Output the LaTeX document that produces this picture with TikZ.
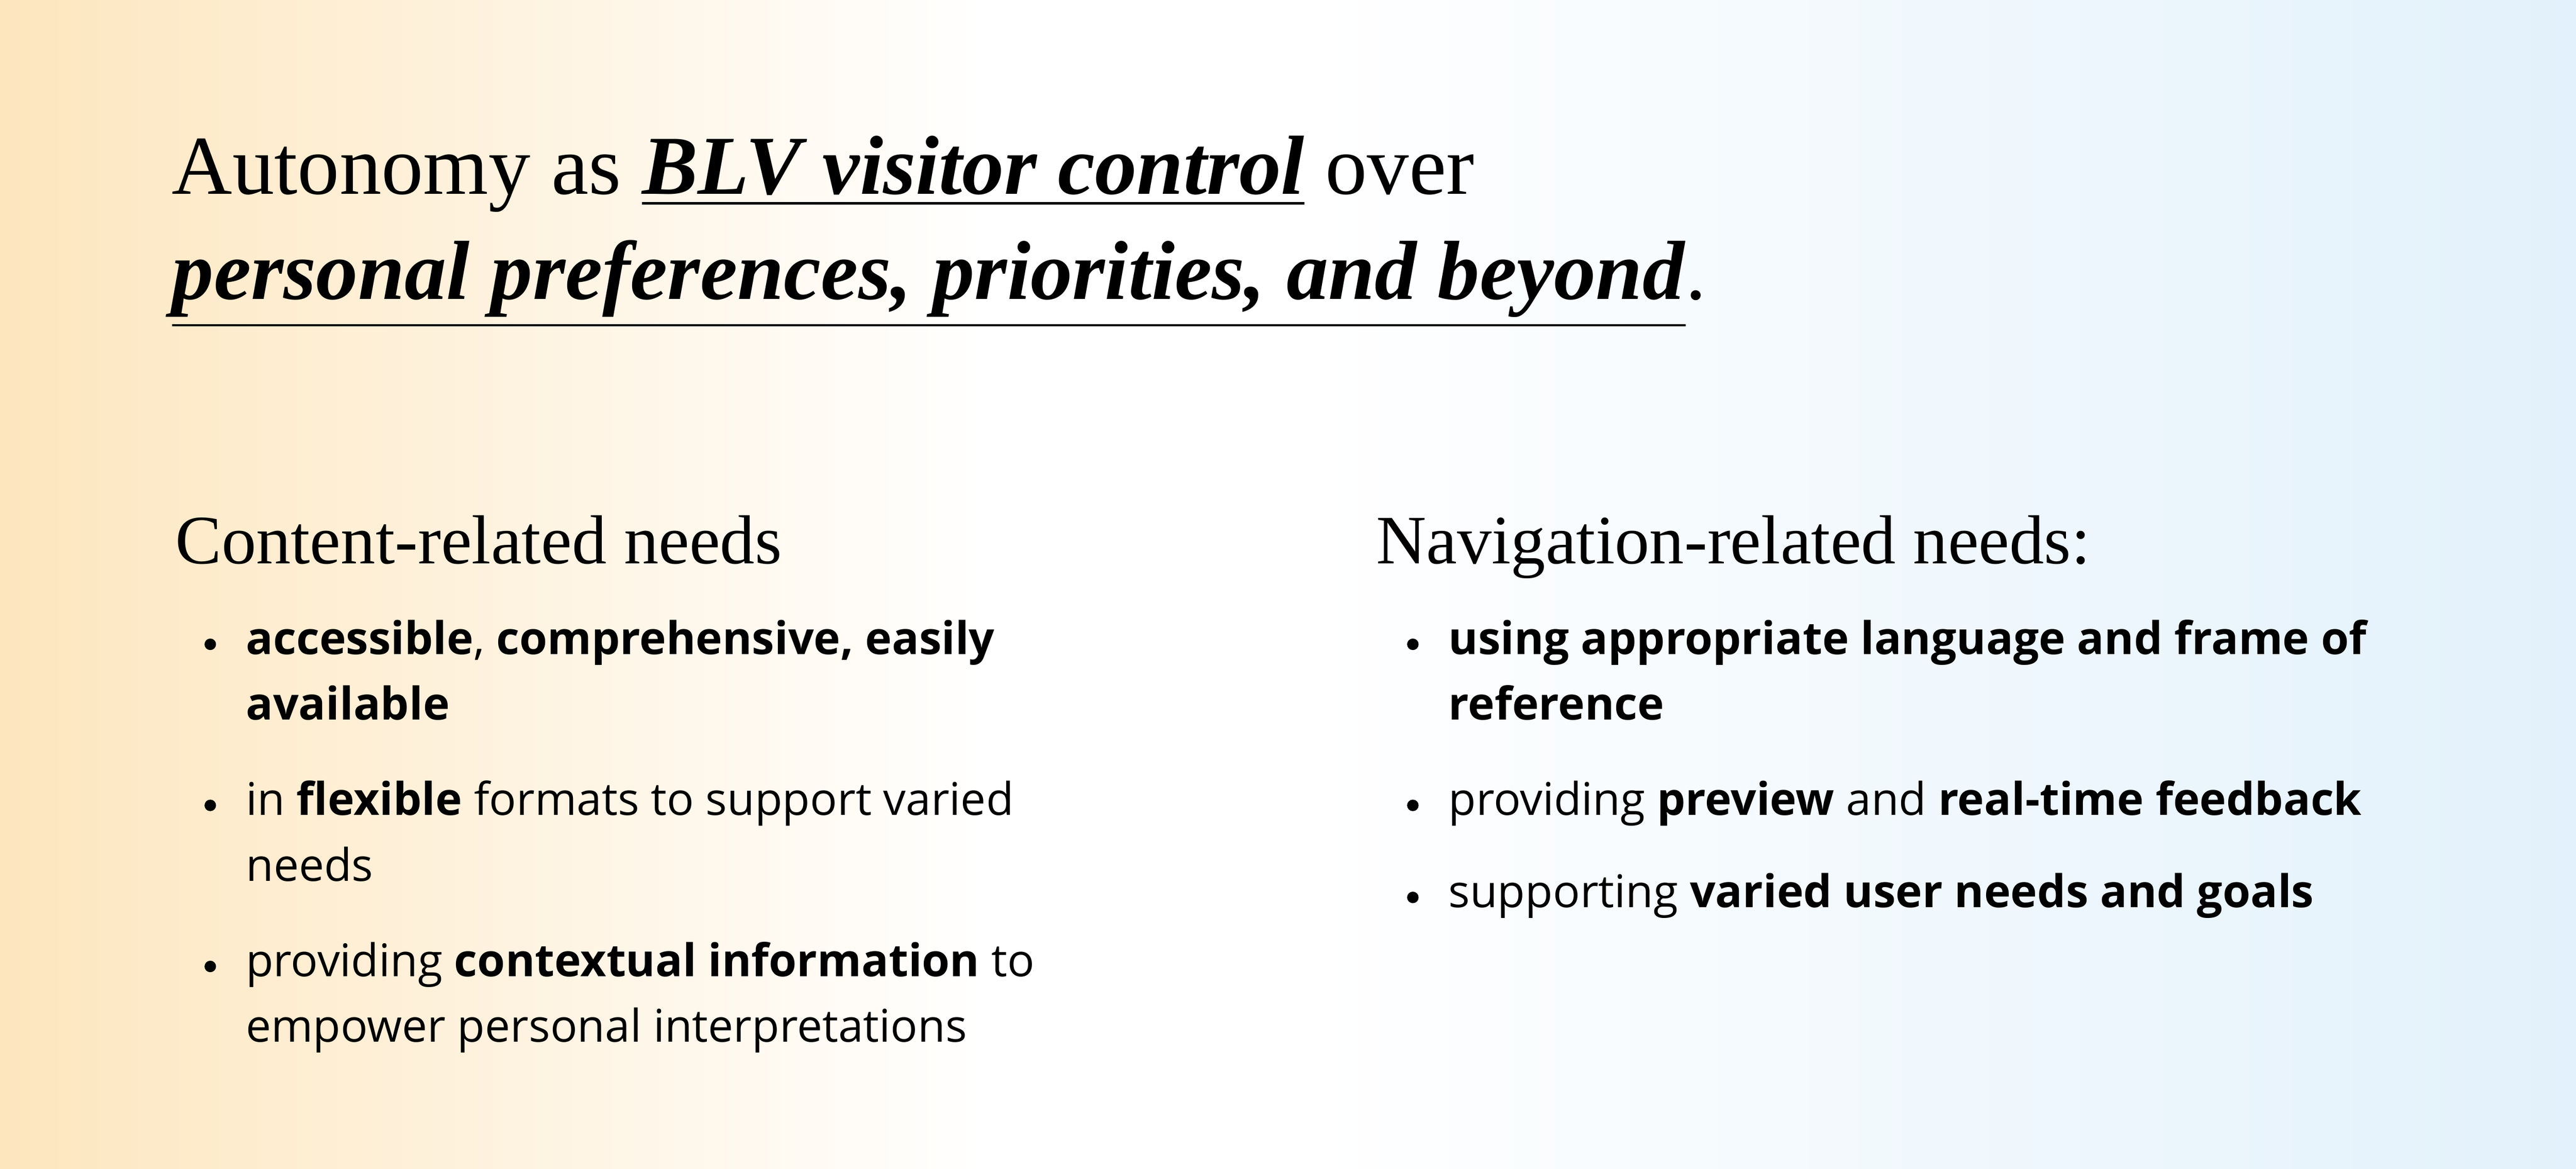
\documentclass[tikz,border=0pt]{standalone}
\usepackage{fontspec}
\setmainfont{Liberation Serif}
\newfontfamily\bodyfont{Open Sans}
\usetikzlibrary{positioning}
\definecolor{warm}{HTML}{FDE6BE}
\definecolor{cool}{HTML}{E2F1FB}
\tikzset{
  title/.style={anchor=base west, inner sep=0pt, font=\fontsize{14.5}{22}\selectfont},
  heading/.style={anchor=base west, inner sep=0pt, font=\fontsize{12}{16}\selectfont},
  item/.style={anchor=base west, inner sep=0pt,
    font=\bodyfont\fontsize{7.8}{11.4}\selectfont},
  dot/.style={circle, fill=black, inner sep=0pt, minimum size=0.07cm}
}
\begin{document}
\begin{tikzpicture}[x=0.01cm,y=-0.01cm]
\useasboundingbox (0,0) rectangle (1568,711);
% background
\shade[left color=warm, right color=white] (0,0) rectangle (600,711);
\fill[white] (600,0) rectangle (800,711);
\shade[left color=white, right color=cool] (800,0) rectangle (1568,711);
% title
\node[title] (t1) at (104,118)
  {Autonomy as \underline{\textbf{\textit{BLV visitor control}}} over};
\node[title] (t2) at (104,182)
  {\underline{\textbf{\textit{personal preferences, priorities, and beyond}}}.};
% headings
\node[heading] (hc) at (106,343) {Content-related needs};
\node[heading] (hn) at (837,343) {Navigation-related needs:};
% content bullets
\foreach \y/\la/\lb/\nm in {398/{\textbf{accessible}, \textbf{comprehensive, easily}}/{\textbf{available}}/c1,
  496/{in \textbf{flexible} formats to support varied}/{needs}/c2,
  594/{providing \textbf{contextual information} to}/{empower personal interpretations}/c3}{
  \node[item] (\nm) at (149,\y) {\la};
  \node[item] (\nm b) at (149,\y+40) {\lb};
  \node[dot] at (128,\y-6) {};
}
% navigation bullets
\node[item] (n1) at (881,398) {\textbf{using appropriate language and frame of}};
\node[item] (n1b) at (881,438) {\textbf{reference}};
\node[item] (n2) at (881,496) {providing \textbf{preview} and \textbf{real-time feedback}};
\node[item] (n3) at (881,552) {supporting \textbf{varied user needs and goals}};
\foreach \y in {398,496,552}
  \node[dot] at (860,\y-6) {};
\end{tikzpicture}
\end{document}
